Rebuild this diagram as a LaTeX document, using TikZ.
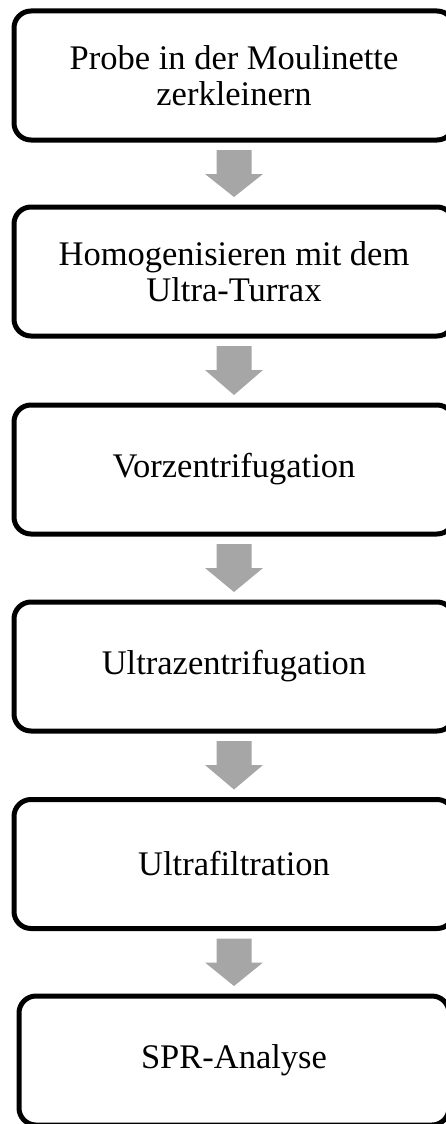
\documentclass[tikz,border=0pt]{standalone}
\usepackage{fontspec}
\setmainfont{Liberation Serif}
\usetikzlibrary{calc}
\definecolor{arrowgray}{HTML}{A6A6A6}
\tikzset{
  stepbox/.style={draw=black, line width=5pt, rounded corners=17pt, outer sep=0pt,
    minimum width=440pt, minimum height=129pt, align=center, inner sep=0pt,
    font=\fontsize{34.5pt}{36pt}\selectfont},
  flowarrow/.style={fill=arrowgray, draw=none}
}
\newcommand{\flowarr}[2]{%
  \path[flowarrow] ($(#1.south)+(-17.5pt,-10pt)$) -- ($(#1.south)+(17.5pt,-10pt)$)
    -- ($(#1.south)+(17.5pt,-34pt)$) -- ($(#1.south)+(29pt,-34pt)$)
    -- ($(#2.north)+(0pt,10pt)$)
    -- ($(#1.south)+(-29pt,-34pt)$) -- ($(#1.south)+(-17.5pt,-34pt)$) -- cycle;}
\begin{document}
\begin{tikzpicture}[x=1pt,y=-1pt]
\useasboundingbox (0,0) rectangle (446,1124);
\clip (0,0) rectangle (446,1124);
\node[stepbox] (b1) at (234,75.5) {Probe in der Moulinette\\zerkleinern};
\node[stepbox] (b2) at (234,271.5) {Homogenisieren mit dem\\Ultra-Turrax};
\node[stepbox] (b3) at (234,469.5) {Vorzentrifugation};
\node[stepbox] (b4) at (234,666.5) {Ultrazentrifugation};
\node[stepbox] (b5) at (234,864) {Ultrafiltration};
\node[stepbox, minimum width=430pt] (b6) at (234,1060.5) {SPR-Analyse};
\flowarr{b1}{b2}
\flowarr{b2}{b3}
\flowarr{b3}{b4}
\flowarr{b4}{b5}
\flowarr{b5}{b6}
\end{tikzpicture}
\end{document}
